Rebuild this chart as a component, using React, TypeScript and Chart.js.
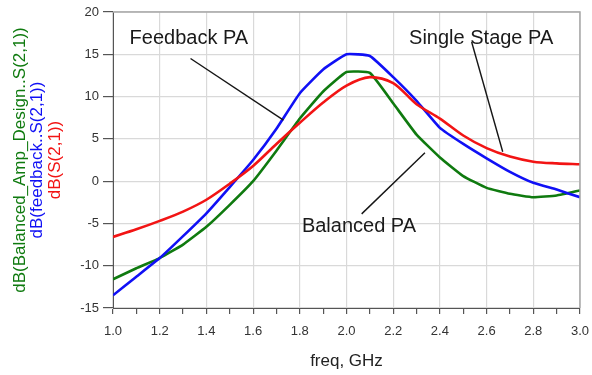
import React, { useEffect, useRef } from 'react';
import { Chart, registerables } from 'chart.js';

Chart.register(...registerables);

// ---- data ----
const freqs = [1.0, 1.1, 1.2, 1.3, 1.4, 1.5, 1.6, 1.7, 1.8, 1.9, 2.0, 2.1, 2.2, 2.3, 2.4, 2.5, 2.6, 2.7, 2.8, 2.9, 3.0];
const balancedPA = [-11.6, -10.3, -9.1, -7.5, -5.4, -2.8, 0.0, 3.6, 7.4, 10.6, 12.9, 12.8, 9.2, 5.5, 2.8, 0.6, -0.8, -1.5, -1.9, -1.7, -1.1];
const feedbackPA = [-13.5, -11.3, -9.1, -6.5, -3.8, -0.7, 2.5, 6.2, 10.4, 13.2, 15.0, 14.8, 12.3, 9.5, 6.3, 4.4, 2.7, 1.1, -0.2, -1.0, -1.9];
const singleStagePA = [-6.6, -5.7, -4.7, -3.6, -2.2, -0.3, 1.8, 4.4, 6.9, 9.3, 11.3, 12.3, 11.6, 9.1, 7.4, 5.4, 3.9, 2.9, 2.3, 2.1, 2.0];

const xTickValues = [1.0, 1.1, 1.2, 1.3, 1.4, 1.5, 1.6, 1.7, 1.8, 1.9, 2.0, 2.1, 2.2, 2.3, 2.4, 2.5, 2.6, 2.7, 2.8, 2.9, 3.0];
const yTickValues = [-15, -10, -5, 0, 5, 10, 15, 20];

const xTitle = 'freq, GHz';
const yTitles = ['dB(Balanced_Amp_Design..S(2,1))', 'dB(feedback..S(2,1))', 'dB(S(2,1))'];

// annotation labels: text anchor (freq, dB) and pointer line (freq, dB) -> (freq, dB)
const annotationLabels = ['Feedback PA', 'Single Stage PA', 'Balanced PA'];
const annotationTextAt = [[1.071, 16.2], [2.268, 16.2], [1.809, -6.03]];
const annotationLineFrom = [[1.332, 14.5], [2.536, 16.46], [2.065, -3.87]];
const annotationLineTo = [[1.73, 7.22], [2.669, 3.48], [2.336, 3.36]];

const GREEN = '#0f7a0f';
const BLUE = '#1010f5';
const RED = '#f21414';
const FONT = '"Liberation Sans", Arial, Helvetica, sans-serif';

const overlayPlugin = {
  id: 'overlay',
  afterDatasetsDraw(chart: any) {
    const { ctx, chartArea, scales } = chart;
    const xs = scales.x;
    const ys = scales.y;
    ctx.save();
    // top and right frame
    ctx.strokeStyle = '#a8a8a8';
    ctx.lineWidth = 1.5;
    ctx.beginPath();
    ctx.moveTo(chartArea.left, chartArea.top);
    ctx.lineTo(chartArea.right, chartArea.top);
    ctx.lineTo(chartArea.right, chartArea.bottom);
    ctx.stroke();

    // annotations
    ctx.strokeStyle = '#151515';
    ctx.lineWidth = 1.4;
    for (let i = 0; i < annotationLabels.length; i++) {
      const a = annotationLineFrom[i];
      const b = annotationLineTo[i];
      ctx.beginPath();
      ctx.moveTo(xs.getPixelForValue(a[0]), ys.getPixelForValue(a[1]));
      ctx.lineTo(xs.getPixelForValue(b[0]), ys.getPixelForValue(b[1]));
      ctx.stroke();
    }
    ctx.fillStyle = '#1a1a1a';
    ctx.font = `20px ${FONT}`;
    ctx.textAlign = 'left';
    ctx.textBaseline = 'alphabetic';
    for (let i = 0; i < annotationLabels.length; i++) {
      const t = annotationTextAt[i];
      ctx.fillText(annotationLabels[i], xs.getPixelForValue(t[0]), ys.getPixelForValue(t[1]));
    }

    // y titles
    const cy = (chartArea.top + chartArea.bottom) / 2;
    const colors = [GREEN, BLUE, RED];
    const cols = [20, 37.5, 55];
    ctx.font = `17px ${FONT}`;
    ctx.textAlign = 'center';
    ctx.textBaseline = 'middle';
    for (let i = 0; i < yTitles.length; i++) {
      ctx.save();
      ctx.translate(cols[i], cy);
      ctx.rotate(-Math.PI / 2);
      ctx.fillStyle = colors[i];
      ctx.fillText(yTitles[i], 0, 0);
      ctx.restore();
    }

    // x title
    ctx.fillStyle = '#222';
    ctx.font = `17px ${FONT}`;
    ctx.textAlign = 'center';
    ctx.textBaseline = 'alphabetic';
    ctx.fillText(xTitle, (chartArea.left + chartArea.right) / 2, 366);
    ctx.restore();
  },
};

export default function App() {
  const canvasRef = useRef<HTMLCanvasElement | null>(null);

  useEffect(() => {
    const canvas = canvasRef.current;
    if (!canvas) return;
    const mk = (arr: number[]) => freqs.map((f, i) => ({ x: f, y: arr[i] }));
    const isMajor = (v: number) => Math.round(v * 10) % 2 === 0;
    const chart = new Chart(canvas, {
      type: 'line',
      data: {
        datasets: [
          { label: 'Single Stage PA', data: mk(singleStagePA), borderColor: RED, borderWidth: 2.6, pointRadius: 0, tension: 0.3, fill: false },
          { label: 'Feedback PA', data: mk(feedbackPA), borderColor: BLUE, borderWidth: 2.6, pointRadius: 0, tension: 0.12, fill: false },
          { label: 'Balanced PA', data: mk(balancedPA), borderColor: GREEN, borderWidth: 2.6, pointRadius: 0, tension: 0.12, fill: false },
        ],
      },
      plugins: [overlayPlugin],
      options: {
        animation: false,
        responsive: false,
        devicePixelRatio: 1,
        layout: { padding: { top: 12, right: 12, left: 0, bottom: 0 } },
        plugins: { legend: { display: false }, tooltip: { enabled: false } },
        scales: {
          x: {
            type: 'linear',
            min: 1,
            max: 3,
            afterBuildTicks: (scale: any) => {
              scale.ticks = xTickValues.map((v) => ({ value: v }));
            },
            afterFit: (scale: any) => {
              scale.height = 67;
              scale.paddingLeft = 0;
              scale.paddingRight = 0;
            },
            ticks: {
              autoSkip: false,
              maxRotation: 0,
              minRotation: 0,
              padding: 10,
              color: '#333',
              font: { family: FONT, size: 13 },
              callback: (value: any) => (isMajor(Number(value)) ? Number(value).toFixed(1) : ''),
            },
            grid: {
              color: (c: any) => (c.tick && isMajor(c.tick.value) ? '#d9d9d9' : 'rgba(0,0,0,0)'),
              lineWidth: 1.2,
              tickColor: '#555',
              tickLength: 6,
              drawTicks: true,
            },
            border: { display: true, color: '#555', width: 1 },
          },
          y: {
            type: 'linear',
            min: -15,
            max: 20,
            afterBuildTicks: (scale: any) => {
              scale.ticks = yTickValues.map((v) => ({ value: v }));
            },
            afterFit: (scale: any) => {
              scale.width = 113;
              scale.paddingTop = 0;
              scale.paddingBottom = 0;
            },
            ticks: {
              padding: 4,
              color: '#333',
              font: { family: FONT, size: 13 },
              callback: (value: any) => String(value),
            },
            grid: {
              color: '#d9d9d9',
              lineWidth: 1.2,
              tickColor: '#555',
              tickLength: 10,
              drawTicks: true,
            },
            border: { display: true, color: '#555', width: 1 },
          },
        },
      },
    });
    return () => chart.destroy();
  }, []);

  return (
    <div style={{ position: 'absolute', left: 0, top: 0, width: 592, height: 375, background: '#fff' }}>
      <canvas ref={canvasRef} width={592} height={375} style={{ display: 'block' }} />
    </div>
  );
}
